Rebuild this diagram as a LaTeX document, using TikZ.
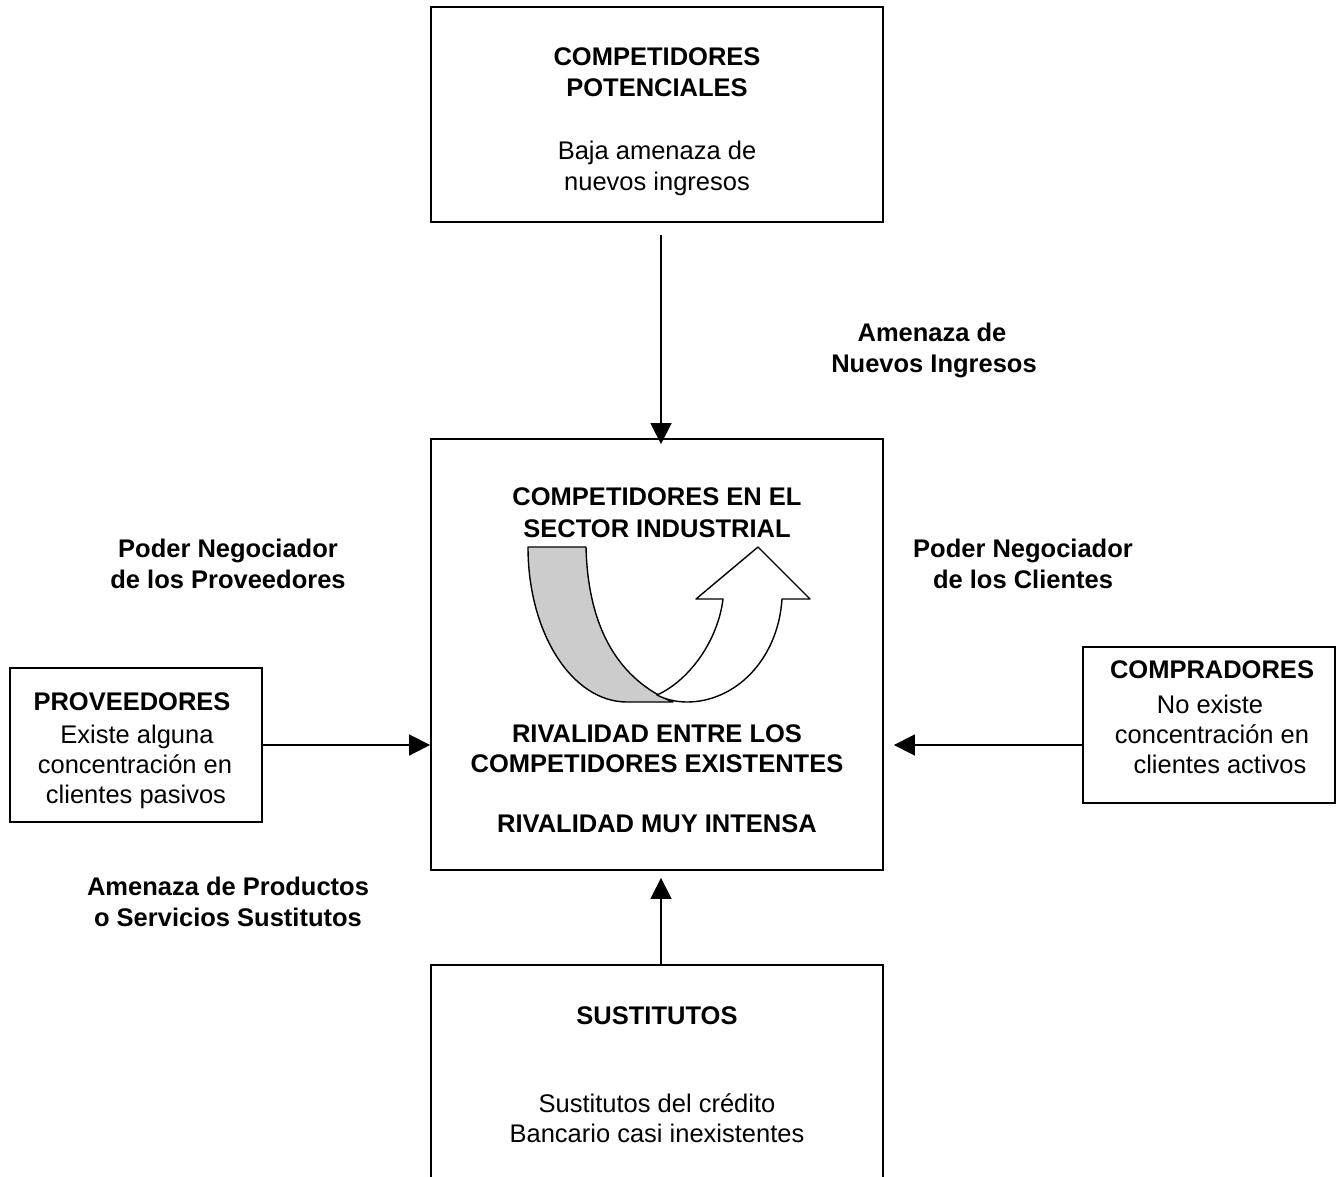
\documentclass[tikz,border=0pt]{standalone}
\usepackage{fontspec}
\setmainfont{Liberation Sans}
\usetikzlibrary{arrows.meta,calc}
\definecolor{band}{HTML}{CCCCCC}
\begin{document}
\begin{tikzpicture}[x=1pt,y=-1pt,
  boxline/.style={line width=1.8pt},
  box/.style={draw,boxline,rectangle,inner sep=0pt},
  arr/.style={line width=1.6pt,-{Triangle[length=21pt,width=21pt]}},
  txt/.style={inner sep=0pt,anchor=base,font=\fontsize{25.5}{31}\selectfont},
  btxt/.style={txt,font=\fontsize{25.5}{31}\selectfont\bfseries},
  shape line/.style={line width=1.4pt,line join=round}]
\useasboundingbox (0,0) rectangle (1338,1177);

% boxes
\node[box,minimum width=452pt,minimum height=215pt] (pot) at (657,114.5) {};
\node[box,minimum width=452pt,minimum height=431pt] (mid) at (657,654.5) {};
\node[box,minimum width=252pt,minimum height=154pt] (prov) at (136,745) {};
\node[box,minimum width=252pt,minimum height=156pt] (comp) at (1209,725) {};
\node[inner sep=0pt,minimum width=452pt,minimum height=212pt] (sust) at (657,1071) {};
\draw[boxline] (sust.south west) -- (sust.north west) -- (sust.north east) -- (sust.south east);

% texts in boxes
\node[btxt] (pot1) at (657,66) {COMPETIDORES};
\node[btxt] (pot2) at (657,97) {POTENCIALES};
\node[txt] (pot3) at (657,160) {Baja amenaza de};
\node[txt] (pot4) at (657,190) {nuevos ingresos};

\node[btxt] (mid1) at (657,505) {COMPETIDORES EN EL};
\node[btxt] (mid2) at (657,537) {SECTOR INDUSTRIAL};
\node[btxt] (mid3) at (657,742) {RIVALIDAD ENTRE LOS};
\node[btxt] (mid4) at (657,772) {COMPETIDORES EXISTENTES};
\node[btxt] (mid5) at (657,832) {RIVALIDAD MUY INTENSA};

\node[btxt] (prov1) at (132,710) {PROVEEDORES};
\node[txt] (prov2) at (137,743) {Existe alguna};
\node[txt] (prov3) at (135,773) {concentración en};
\node[txt] (prov4) at (136,803) {clientes pasivos};

\node[btxt] (comp1) at (1212,678) {COMPRADORES};
\node[txt] (comp2) at (1210,713) {No existe};
\node[txt] (comp3) at (1212,743) {concentración en};
\node[txt] (comp4) at (1220,773) {clientes activos};

\node[btxt] (sust1) at (657,1024) {SUSTITUTOS};
\node[txt] (sust2) at (657,1112) {Sustitutos del crédito};
\node[txt] (sust3) at (657,1142) {Bancario casi inexistentes};

% outside labels
\node[btxt] (l1a) at (932,341) {Amenaza de};
\node[btxt] (l1b) at (934,372) {Nuevos Ingresos};
\node[btxt] (l2a) at (228,557) {Poder Negociador};
\node[btxt] (l2b) at (228,588) {de los Proveedores};
\node[btxt] (l3a) at (1023,557) {Poder Negociador};
\node[btxt] (l3b) at (1023,588) {de los Clientes};
\node[btxt] (l4a) at (228,895) {Amenaza de Productos};
\node[btxt] (l4b) at (228,926) {o Servicios Sustitutos};

% connectors
\draw[arr] ($(pot.south)+(4,12)$) -- ($(mid.north)+(4,6)$);
\draw[arr] ($(sust.north)+(4,0)$) -- ($(mid.south)+(4,7)$);
\draw[arr] (prov.east) -- (prov.east -| mid.west);
\draw[arr] (comp.west |- prov.east) -- ($(mid.east |- prov.east)+(10,0)$);

% curved U-turn arrow
\draw[shape line,fill=band] (528,547) -- (586,547)
  .. controls (588,630) and (620,680) .. (673,702)
  -- (627,702) .. controls (572,702) and (528,633) .. cycle;
\draw[shape line,fill=white] (657,695)
  .. controls (690,680) and (718,640) .. (723,599)
  -- (696,599) -- (758,547) -- (810,599) -- (782,599)
  .. controls (778,660) and (735,702) .. (687,702)
  .. controls (675,702) and (665,699) .. cycle;
\end{tikzpicture}
\end{document}
